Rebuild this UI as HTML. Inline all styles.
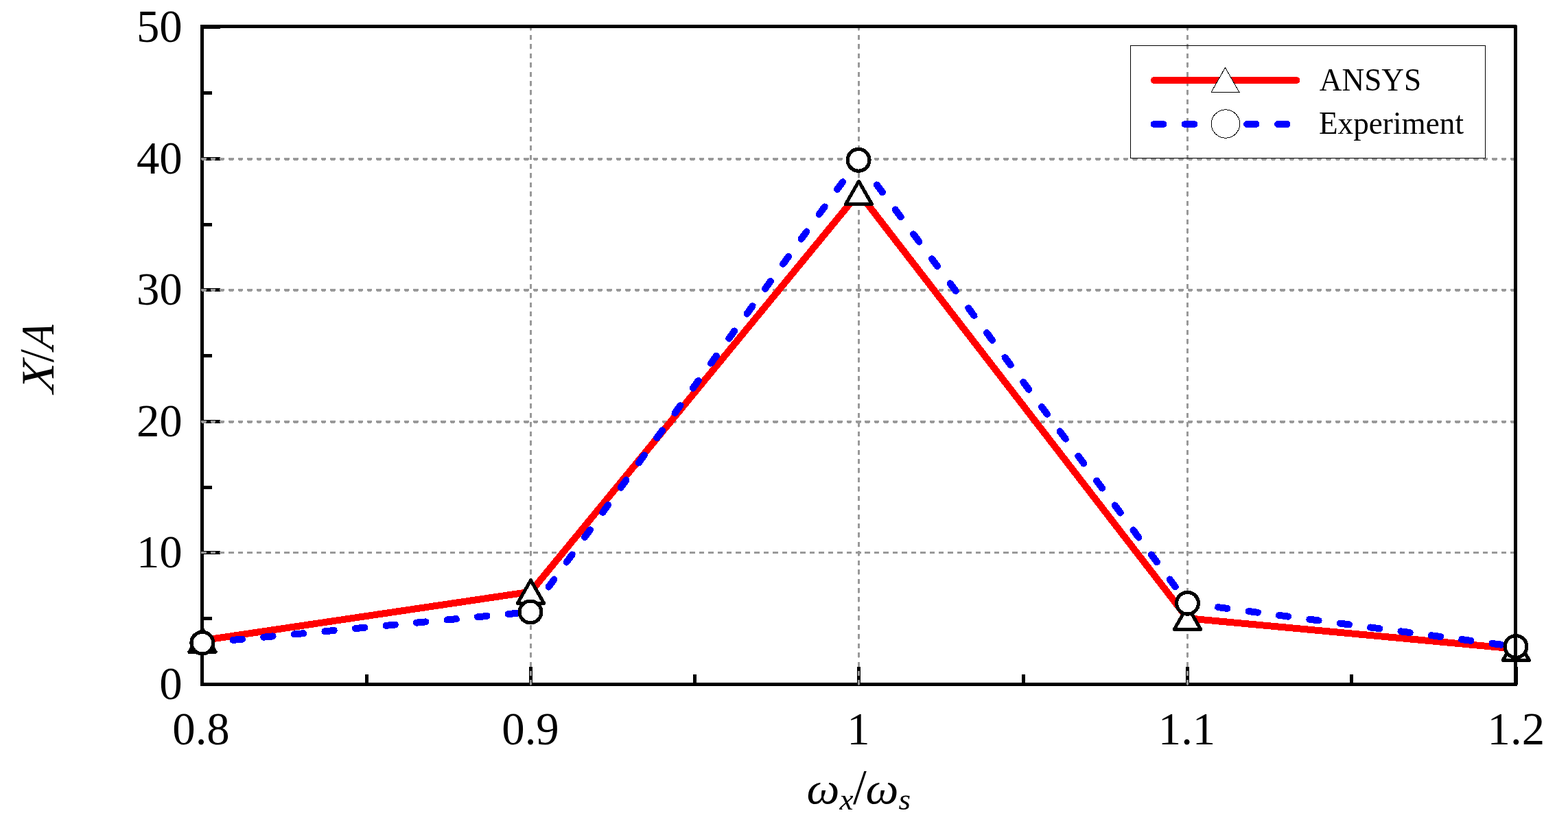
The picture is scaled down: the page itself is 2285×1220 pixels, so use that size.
<!DOCTYPE html>
<html lang="en"><head><meta charset="utf-8"><title>X/A vs &#969;x/&#969;s: ANSYS, Experiment</title>
<style>
html,body{margin:0;padding:0;background:#fff;}
body{width:2285px;height:1220px;overflow:hidden;}
svg{display:block;}
text{font-family:"Liberation Serif",serif;fill:#000;}
.tk{font-size:68.5px;}
.lg{font-size:47.5px;}
.ax{font-size:68px;font-style:italic;}
.up{font-style:normal;font-size:71px;}
.sb{font-size:45px;}
</style></head><body>
<svg width="2285" height="1220" viewBox="0 0 2285 1220" shape-rendering="crispEdges">
<rect width="2285" height="1220" fill="#fff"/>
<g stroke="#000" stroke-width="5" fill="none" stroke-linecap="butt">
<path d="M294.5 36.0V1000.0"/>
<path d="M292.0 997.5H2211.0"/>
<path d="M294.5 805.5H321.0"/>
<path d="M294.5 614.5H321.0"/>
<path d="M294.5 422.5H321.0"/>
<path d="M294.5 231.5H321.0"/>
<path d="M294.5 39.5H321.0"/>
<path d="M294.5 901.5H309.0"/>
<path d="M294.5 710.0H309.0"/>
<path d="M294.5 518.5H309.0"/>
<path d="M294.5 327.0H309.0"/>
<path d="M294.5 135.5H309.0"/>
<path d="M773.5 997.5V972.0"/>
<path d="M1251.5 997.5V972.0"/>
<path d="M1730.5 997.5V972.0"/>
<path d="M2209.0 997.5V972.0"/>
<path d="M534.5 997.5V983.0"/>
<path d="M1012.5 997.5V983.0"/>
<path d="M1491.5 997.5V983.0"/>
<path d="M1969.5 997.5V983.0"/>
</g>
<g stroke="#999999" fill="none">
<path d="M293.1 805.5H2208.5" stroke-width="3" stroke-dasharray="7.5 5.936"/>
<path d="M293.1 614.5H2208.5" stroke-width="3" stroke-dasharray="7.5 5.936"/>
<path d="M293.1 616.5H2208.5" stroke-width="1" stroke-dasharray="5.5 7.936" stroke-dashoffset="-1"/>
<path d="M293.1 422.5H2208.5" stroke-width="3" stroke-dasharray="7.5 5.936"/>
<path d="M293.1 424.5H2208.5" stroke-width="1" stroke-dasharray="5.5 7.936" stroke-dashoffset="-1"/>
<path d="M293.1 231.5H2208.5" stroke-width="3" stroke-dasharray="7.5 5.936"/>
<path d="M293.1 233.5H2208.5" stroke-width="1" stroke-dasharray="5.5 7.936" stroke-dashoffset="-1"/>
<path d="M773.5 998.9V38.5" stroke-width="3" stroke-dasharray="7 6.436" stroke-dashoffset="-0.5"/>
<path d="M773.5 998.9V38.5" stroke-width="1" stroke-dasharray="7.5 5.936"/>
<path d="M1251.5 998.9V38.5" stroke-width="3" stroke-dasharray="7 6.436" stroke-dashoffset="-0.5"/>
<path d="M1251.5 998.9V38.5" stroke-width="1" stroke-dasharray="7.5 5.936"/>
<path d="M1730.5 998.9V38.5" stroke-width="3" stroke-dasharray="7 6.436" stroke-dashoffset="-0.5"/>
<path d="M1730.5 998.9V38.5" stroke-width="1" stroke-dasharray="7.5 5.936"/>
</g>
<polyline points="294.5,933.5 773.5,862.5 1251.5,281.0 1730.5,901.2 2209.0,945.8" fill="none" stroke="#ff0000" stroke-width="10" stroke-linejoin="round" stroke-linecap="butt"/>
<path d="M294.8 937.1L773.0 892.0" fill="none" stroke="#0000ff" stroke-width="10" stroke-linecap="round" stroke-dasharray="13.3 31.45" stroke-dashoffset="-0.4"/>
<path d="M294.8 937.1L773.0 892.0" fill="none" stroke="#0000ff" stroke-width="6.5" stroke-dasharray="22.3 22.45" stroke-dashoffset="4.1"/>
<path d="M773.0 892.0L1251.1 233.3" fill="none" stroke="#0000ff" stroke-width="10" stroke-linecap="round" stroke-dasharray="13.3 31.45" stroke-dashoffset="-0.4"/>
<path d="M773.0 892.0L1251.1 233.3" fill="none" stroke="#0000ff" stroke-width="6.5" stroke-dasharray="22.3 22.45" stroke-dashoffset="4.1"/>
<path d="M1251.1 233.3L1730.5 879.2" fill="none" stroke="#0000ff" stroke-width="10" stroke-linecap="round" stroke-dasharray="13.3 31.45" stroke-dashoffset="-0.4"/>
<path d="M1251.1 233.3L1730.5 879.2" fill="none" stroke="#0000ff" stroke-width="6.5" stroke-dasharray="22.3 22.45" stroke-dashoffset="4.1"/>
<path d="M1730.5 879.2L2209.0 942.5" fill="none" stroke="#0000ff" stroke-width="10" stroke-linecap="round" stroke-dasharray="13.3 31.45" stroke-dashoffset="-0.4"/>
<path d="M1730.5 879.2L2209.0 942.5" fill="none" stroke="#0000ff" stroke-width="6.5" stroke-dasharray="22.3 22.45" stroke-dashoffset="4.1"/>
<path d="M295.00 916.70L314.20 950.30L275.80 950.30Z" fill="#fff" stroke="#000" stroke-width="5" stroke-linejoin="round"/>
<path d="M773.50 845.70L792.70 879.30L754.30 879.30Z" fill="#fff" stroke="#000" stroke-width="5" stroke-linejoin="round"/>
<path d="M1251.50 264.20L1270.70 297.80L1232.30 297.80Z" fill="#fff" stroke="#000" stroke-width="5" stroke-linejoin="round"/>
<path d="M1730.50 883.70L1749.70 917.30L1711.30 917.30Z" fill="#fff" stroke="#000" stroke-width="5" stroke-linejoin="round"/>
<path d="M2209.30 928.80L2228.50 962.40L2190.10 962.40Z" fill="#fff" stroke="#000" stroke-width="5" stroke-linejoin="round"/>
<circle cx="294.80" cy="937.10" r="15.9" fill="#fff" stroke="#000" stroke-width="5.2"/>
<circle cx="773.00" cy="892.00" r="15.9" fill="#fff" stroke="#000" stroke-width="5.2"/>
<circle cx="1251.10" cy="233.30" r="15.9" fill="#fff" stroke="#000" stroke-width="5.2"/>
<circle cx="1730.50" cy="879.20" r="15.9" fill="#fff" stroke="#000" stroke-width="5.2"/>
<circle cx="2209.00" cy="942.50" r="15.9" fill="#fff" stroke="#000" stroke-width="5.2"/>
<path d="M292.0 38.5H2208.5V1000.0" stroke="#000" stroke-width="5" fill="none" stroke-linejoin="round"/>
<rect x="1647.5" y="66.5" width="517" height="164" fill="none" stroke="#000" stroke-width="1"/>
<path d="M1681.8 117H1889.3" stroke="#ff0000" stroke-width="10" stroke-linecap="round" fill="none"/>
<path d="M1785.50 98.50L1806.00 134.50L1765.00 134.50Z" fill="#fff" stroke="#000" stroke-width="1" stroke-linejoin="round"/>
<path d="M1681.8 181H1889.3" stroke="#0000ff" stroke-width="10" stroke-linecap="round" stroke-dasharray="13.3 31.8" fill="none"/>
<path d="M1677.3 181H1889.3" stroke="#0000ff" stroke-width="6.5" stroke-dasharray="22.3 22.8" fill="none"/>
<circle cx="1786.00" cy="180.50" r="20.7" fill="#fff" stroke="#000" stroke-width="1"/>
<text class="lg" transform="translate(1922.8 132) scale(0.9528 1)">ANSYS</text>
<text class="lg" transform="translate(1921.9 195) scale(0.9528 1)">Experiment</text>
<text class="tk" transform="translate(265.7 1019.25) scale(0.975 1)" text-anchor="end">0</text>
<text class="tk" transform="translate(265.7 827.25) scale(0.975 1)" text-anchor="end">10</text>
<text class="tk" transform="translate(265.7 636.25) scale(0.975 1)" text-anchor="end">20</text>
<text class="tk" transform="translate(265.7 444.25) scale(0.975 1)" text-anchor="end">30</text>
<text class="tk" transform="translate(265.7 253.25) scale(0.975 1)" text-anchor="end">40</text>
<text class="tk" transform="translate(265.7 61.25) scale(0.975 1)" text-anchor="end">50</text>
<text class="tk" transform="translate(293.0 1085) scale(0.975 1)" text-anchor="middle">0.8</text>
<text class="tk" transform="translate(773.0 1085) scale(0.975 1)" text-anchor="middle">0.9</text>
<text class="tk" transform="translate(1250.9 1085) scale(0.975 1)" text-anchor="middle">1</text>
<text class="tk" transform="translate(1729.5 1085) scale(0.975 1)" text-anchor="middle">1.1</text>
<text class="tk" transform="translate(2209.3 1085) scale(0.975 1)" text-anchor="middle">1.2</text>
<text class="ax" style="font-size:64.5px"><tspan x="1175.6" y="1171.3" textLength="48" lengthAdjust="spacingAndGlyphs">&#969;</tspan><tspan class="sb" x="1223.5" y="1180">x</tspan><tspan class="up" x="1243" y="1171.2">/</tspan><tspan x="1261.6" y="1171.3" textLength="48" lengthAdjust="spacingAndGlyphs">&#969;</tspan><tspan class="sb" x="1309.5" y="1179.5">s</tspan></text>
<text class="ax" transform="translate(78 576.1) rotate(-90) skewX(-8)"><tspan x="2.6" y="0" textLength="44.5" lengthAdjust="spacingAndGlyphs">X</tspan><tspan class="up" x="47.9" y="0" rotate="-8" style="font-size:68.5px">/</tspan><tspan x="65.6" y="0" textLength="37" lengthAdjust="spacingAndGlyphs">A</tspan></text>
</svg>
</body></html>
